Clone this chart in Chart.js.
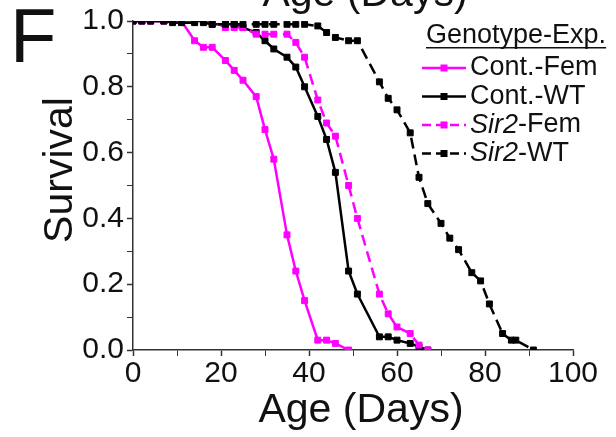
<!DOCTYPE html>
<html>
<head>
<meta charset="utf-8">
<script src="https://cdn.jsdelivr.net/npm/chart.js@4.4.1/dist/chart.umd.min.js"></script>
<style>
  html, body { margin: 0; padding: 0; background: #fff; overflow: hidden; }
  #wrap { position: relative; width: 616px; height: 437px; }
</style>
</head>
<body>
<div id="wrap"><canvas id="survivalChart" width="616" height="437"></canvas></div>
<script>
// Survival curves, values
const contFemDays = [0, 2, 4, 7, 9, 11, 14, 16, 18, 21, 23, 25, 28, 30, 32, 35, 37, 39, 42, 44, 46, 49];
const contFemSurv = [1, 1, 1, 1, 1, 1, 0.94, 0.92, 0.92, 0.88, 0.85, 0.82, 0.77, 0.67, 0.58, 0.35, 0.24, 0.15, 0.03, 0.03, 0.02, 0];

const contWtDays = [0, 2, 4, 7, 9, 11, 14, 16, 18, 21, 23, 25, 28, 30, 32, 35, 37, 39, 42, 44, 46, 49, 51, 56, 58, 60, 63, 65, 67];
const contWtSurv = [1, 1, 1, 1, 1, 1, 1, 1, 0.99, 0.99, 0.99, 0.98, 0.965, 0.94, 0.915, 0.89, 0.86, 0.80, 0.71, 0.64, 0.54, 0.24, 0.17, 0.04, 0.04, 0.03, 0.02, 0.01, 0];

const sir2FemDays = [0, 2, 4, 7, 9, 11, 14, 16, 18, 21, 23, 25, 28, 30, 32, 35, 37, 39, 42, 44, 46, 49, 51, 56, 58, 60, 63, 65, 67];
const sir2FemSurv = [1, 1, 1, 1, 1, 1, 1, 1, 1, 0.98, 0.98, 0.98, 0.96, 0.96, 0.96, 0.96, 0.935, 0.89, 0.76, 0.69, 0.65, 0.50, 0.40, 0.17, 0.11, 0.07, 0.05, 0.015, 0];

const sir2WtDays = [0, 2, 4, 7, 9, 11, 14, 16, 18, 21, 23, 25, 28, 30, 32, 35, 37, 39, 42, 44, 46, 49, 51, 56, 58, 60, 63, 65, 67, 70, 72, 74, 77, 79, 81, 84, 86, 87, 91];
const sir2WtSurv = [1, 1, 1, 1, 0.995, 0.995, 0.995, 0.995, 0.99, 0.99, 0.99, 0.99, 0.99, 0.99, 0.99, 0.99, 0.99, 0.99, 0.985, 0.965, 0.95, 0.94, 0.94, 0.815, 0.765, 0.73, 0.66, 0.525, 0.445, 0.385, 0.34, 0.305, 0.235, 0.21, 0.14, 0.05, 0.03, 0.03, 0];

const seriesNames = ['Cont.-Fem', 'Cont.-WT', 'Sir2-Fem', 'Sir2-WT'];
const legendTitle = 'Genotype-Exp.';
const xTitle = 'Age (Days)';
const yTitle = 'Survival';
const panelLetter = 'F';

const FONT = "'Liberation Sans', Arial, sans-serif";
const MAGENTA = '#ff00ff';
const BLACK = '#000000';
const DASH = [11, 6];

function toPoints(days, surv) {
    return days.map((d, i) => ({ x: d, y: surv[i] }));
}

function makeDataset(label, days, surv, color, dashed, order) {
    return {
        label: label,
        data: toPoints(days, surv),
        borderColor: color,
        backgroundColor: color,
        borderWidth: 2.5,
        borderDash: dashed ? DASH : [],
        pointStyle: 'rect',
        pointRadius: 4.2,
        pointBorderWidth: 1,
        pointBackgroundColor: color,
        pointBorderColor: color,
        tension: 0,
        fill: false,
        order: order
    };
}

// draw legend + free text labels on the canvas
const annotations = {
    id: 'annotations',
    afterDraw(chart) {
        const ctx = chart.ctx;
        ctx.save();
        ctx.fillStyle = '#111';

        // panel letter
        ctx.font = '76px ' + FONT;
        ctx.textAlign = 'left';
        ctx.textBaseline = 'alphabetic';
        ctx.fillText(panelLetter, 10, 62);

        // clipped title of the panel above
        ctx.font = '41px ' + FONT;
        ctx.textAlign = 'center';
        ctx.fillText(xTitle, 365, 6);

        // x axis title
        ctx.fillText(xTitle, 361, 422);

        // y axis title
        ctx.save();
        ctx.translate(72, 170);
        ctx.rotate(-Math.PI / 2);
        ctx.fillText(yTitle, 0, 0);
        ctx.restore();

        // legend title, underlined
        ctx.font = '27px ' + FONT;
        ctx.textAlign = 'left';
        const titleW = ctx.measureText(legendTitle).width;
        ctx.fillText(legendTitle, 426, 43);
        ctx.fillRect(426, 47, titleW, 1.5);

        // legend entries
        const rowY = [68, 96.5, 125, 153.5];
        chart.data.datasets.forEach((ds, i) => {
            const y = rowY[i];
            ctx.save();
            ctx.strokeStyle = ds.borderColor;
            ctx.lineWidth = 2.5;
            ctx.setLineDash(ds.borderDash.length ? [9, 5] : []);
            ctx.beginPath();
            ctx.moveTo(422, y);
            ctx.lineTo(466, y);
            ctx.stroke();
            ctx.setLineDash([]);
            ctx.fillStyle = ds.borderColor;
            ctx.fillRect(440.5, y - 3.5, 7, 7);
            ctx.restore();

            let x = 470;
            const name = seriesNames[i];
            ctx.textBaseline = 'middle';
            if (name.startsWith('Sir2')) {
                ctx.font = 'italic 27px ' + FONT;
                ctx.fillText('Sir2', x, y);
                x += ctx.measureText('Sir2').width;
                ctx.font = '27px ' + FONT;
                ctx.fillText(name.slice(4), x, y);
            } else {
                ctx.font = '27px ' + FONT;
                ctx.fillText(name, x, y);
            }
        });
        ctx.restore();
    }
};

const tickFont = { family: FONT, size: 30 };

// major ticks carry labels, minor ones are drawn lighter
function tickWidthFor(isMajor) {
    return isMajor ? 1.5 : 1;
}

const ctx = document.getElementById('survivalChart').getContext('2d');
new Chart(ctx, {
    type: 'line',
    data: {
        datasets: [
            makeDataset(seriesNames[0], contFemDays, contFemSurv, MAGENTA, false, 3),
            makeDataset(seriesNames[1], contWtDays, contWtSurv, BLACK, false, 2),
            makeDataset(seriesNames[2], sir2FemDays, sir2FemSurv, MAGENTA, true, 1),
            makeDataset(seriesNames[3], sir2WtDays, sir2WtSurv, BLACK, true, 0)
        ]
    },
    options: {
        responsive: false,
        animation: false,
        layout: { padding: { top: 20, right: 43, left: 0, bottom: 0 } },
        plugins: {
            legend: { display: false },
            tooltip: { enabled: false }
        },
        scales: {
            x: {
                type: 'linear',
                min: 0,
                max: 100,
                afterFit: function(scale) { scale.height = 87; },
                ticks: {
                    stepSize: 10,
                    autoSkip: false,
                    maxRotation: 0,
                    padding: 0,
                    color: '#111',
                    font: tickFont,
                    callback: v => (v % 20 === 0 ? v : '')
                },
                grid: {
                    drawOnChartArea: false,
                    tickLength: 6,
                    tickColor: '#333',
                    tickWidth: c => tickWidthFor(c.tick && c.tick.value % 20 === 0)
                },
                border: { color: '#333', width: 1.5 }
            },
            y: {
                min: 0,
                max: 1,
                afterFit: function(scale) { scale.width = 133; },
                ticks: {
                    stepSize: 0.1,
                    autoSkip: false,
                    padding: 3,
                    color: '#111',
                    font: tickFont,
                    callback: v => (Math.round(v * 10) % 2 === 0 ? v.toFixed(1) : '')
                },
                grid: {
                    drawOnChartArea: false,
                    tickLength: 6,
                    tickColor: '#333',
                    tickWidth: c => tickWidthFor(c.tick && Math.round(c.tick.value * 10) % 2 === 0)
                },
                border: { color: '#333', width: 1.5 }
            }
        }
    },
    plugins: [annotations]
});
</script>
</body>
</html>
